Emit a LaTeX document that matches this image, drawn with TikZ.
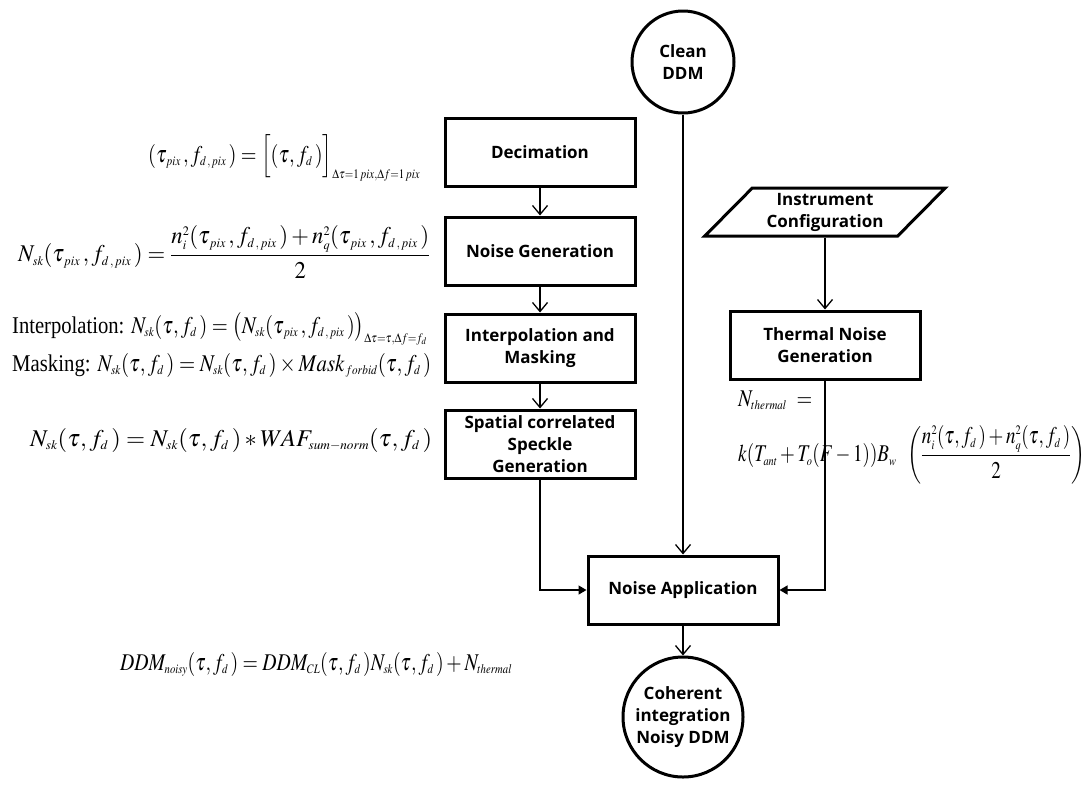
\documentclass[tikz,border=0pt]{standalone}
\usepackage{graphicx}
\usepackage{mathptmx}
\usepackage{fontspec}
\setmainfont{Liberation Serif}
\newfontfamily\boxfont{Open Sans}
\DeclareMathSizes{24}{24}{13}{10}
\newcommand{\fitw}[2]{\resizebox{#1pt}{\height}{#2}}
\usetikzlibrary{arrows.meta,shapes.geometric}
\tikzset{
  procbox/.style={draw, line width=3pt, minimum width=190, minimum height=68, inner sep=2pt,
    align=center, font=\boxfont\bfseries\fontsize{17}{22}\selectfont},
  termcirc/.style={draw, circle, line width=3pt, inner sep=0pt, align=center,
    font=\boxfont\bfseries\fontsize{17}{22}\selectfont},
  io/.style={draw, trapezium, trapezium left angle=45, trapezium right angle=135,
    trapezium stretches=true, line width=3pt, minimum width=241, minimum height=48,
    align=center, inner sep=0pt, font=\boxfont\bfseries\fontsize{17}{22}\selectfont},
  formula/.style={anchor=base west, inner sep=0pt, font=\fontsize{24}{28}\selectfont},
  formulac/.style={anchor=west, inner sep=0pt, font=\fontsize{24}{28}\selectfont},
  conn/.style={line width=1.3pt},
  openarr/.style={conn, -{Straight Barb[length=9pt, width=15pt, line width=1.3pt]}},
  fillarr/.style={conn, -{Triangle[length=8pt, width=9pt]}}
}
\begin{document}
\begin{tikzpicture}[x=1pt, y=-1pt]
\useasboundingbox (0,0) rectangle (1089,785);
% formulas
\node[formula] (f1) at (148,162) {\fitw{272}{$(\tau_{\,pix}\,, f_{d\,,\,pix}\,) = \Big[(\tau, f_d\,)\Big]_{\Delta\tau=1\,pix,\Delta f=1\,pix}$}};
\node[formulac] (f2) at (18,252) {\fitw{412}{$N_{sk}(\tau_{\,pix}\,, f_{d\,,\,pix}\,) = \displaystyle\frac{n_i^2(\tau_{\,pix}\,, f_{d\,,\,pix}\,) + n_q^2(\tau_{\,pix}\,, f_{d\,,\,pix}\,)}{2}$}};
\node[formula] (f3a) at (12,333) {\fitw{415}{Interpolation: $N_{sk}(\tau, f_d\,) = \big(N_{sk}(\tau_{\,pix}\,, f_{d\,,\,pix}\,)\big)_{\Delta\tau=\tau,\Delta f=f_d}$}};
\node[formula] (f3b) at (12,371) {\fitw{419}{Masking: $N_{sk}(\tau, f_d\,) = N_{sk}(\tau, f_d\,)\times Mask_{\,forbid}(\tau, f_d\,)$}};
\node[formula] (f4) at (30,446) {\fitw{402}{$N_{sk}(\tau, f_d\,) = N_{sk}(\tau, f_d\,) * WAF_{sum-norm}(\tau, f_d\,)$}};
\node[formula] (f5a) at (738,406) {\fitw{74}{$N_{thermal}\ =$}};
\node[formulac] (f5b) at (738,455) {\fitw{347}{$k(T_{ant}+T_o(F-1))B_w\;\;\displaystyle\left(\frac{n_i^2(\tau, f_d\,)+n_q^2(\tau, f_d\,)}{2}\right)$}};
\node[formula] (f6) at (120,670) {\fitw{392}{$DDM_{noisy}(\tau, f_d\,) = DDM_{CL}(\tau, f_d\,)N_{sk}(\tau, f_d\,) + N_{thermal}$}};
% nodes
\node[termcirc, minimum size=102] (clean) at (683,62) {Clean\\DDM};
\node[procbox] (dec) at (540,152) {Decimation};
\node[procbox] (ng) at (540,251) {Noise Generation};
\node[procbox] (im) at (540,348) {Interpolation and\\Masking};
\node[procbox] (sp) at (540,444) {Spatial correlated\\Speckle\\Generation};
\node[io] (ic) at (825,212) {Instrument\\Configuration};
\node[procbox] (tn) at (825,345) {Thermal Noise\\Generation};
\node[procbox] (na) at (683,590) {Noise Application};
\node[termcirc, minimum size=120] (coh) at (683,717) {Coherent\\integration\\Noisy DDM};
% connectors
\draw[openarr] (dec) -- (ng);
\draw[openarr] (ng) -- (im);
\draw[openarr] (im) -- (sp);
\draw[openarr] (clean) -- (na);
\draw[openarr] (ic.south -| tn.north) -- (tn);
\draw[fillarr] (sp.south) |- (na.west);
\draw[fillarr] (tn.south) |- (na.east);
\draw[openarr] (na) -- (coh);
\end{tikzpicture}
\end{document}
